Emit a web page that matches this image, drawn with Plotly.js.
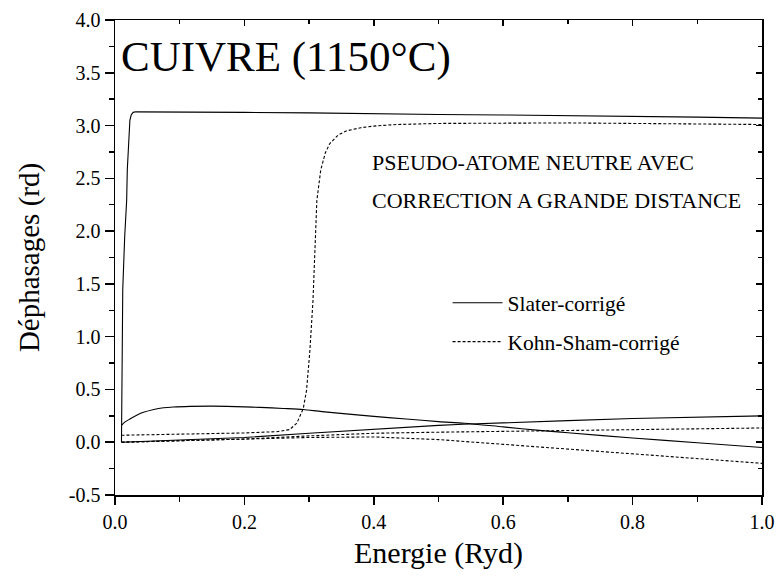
<!DOCTYPE html>
<html>
<head>
<meta charset="utf-8">
<script src="https://cdn.plot.ly/plotly-3.0.1.min.js"></script>
<style>html,body{margin:0;padding:0;background:#fff;}#chart{width:778px;height:581px;}</style>
</head>
<body>
<div id="chart"></div>
<script>
// Slater-corrigé (solid) curves
const slaterStepX = [0.0100, 0.0103, 0.0106, 0.0120, 0.0150, 0.0180, 0.0190, 0.0210, 0.0230, 0.0250, 0.0280, 0.0320, 0.05, 0.1, 0.2, 0.3, 0.4, 0.5, 0.6, 0.7, 0.8, 0.9, 1.0];
const slaterStepY = [0.00, 0.45, 0.87, 1.45, 1.95, 2.29, 2.58, 2.90, 3.05, 3.10, 3.125, 3.13, 3.13, 3.13, 3.125, 3.12, 3.11, 3.105, 3.10, 3.095, 3.085, 3.08, 3.07];

const slaterHumpX = [0.01, 0.015, 0.023, 0.035, 0.044, 0.06, 0.075, 0.09, 0.116, 0.15, 0.173, 0.2, 0.224, 0.26, 0.291, 0.32, 0.4, 0.45, 0.5, 0.54, 0.6, 0.66, 0.7, 0.8, 0.9, 1.0];
const slaterHumpY = [0.16, 0.19, 0.22, 0.26, 0.283, 0.31, 0.326, 0.334, 0.34, 0.342, 0.34, 0.335, 0.33, 0.32, 0.31, 0.29, 0.245, 0.22, 0.195, 0.18, 0.145, 0.11, 0.09, 0.04, -0.005, -0.05];

const slaterLowX = [0.01, 0.1, 0.2, 0.3, 0.4, 0.5, 0.538, 0.6, 0.7, 0.8, 0.9, 1.0];
const slaterLowY = [0.00, 0.02, 0.045, 0.085, 0.125, 0.16, 0.17, 0.185, 0.205, 0.225, 0.24, 0.25];

// Kohn-Sham-corrigé (dashed) curves
const ksStepX = [0.01, 0.05, 0.1, 0.15, 0.2, 0.25, 0.27, 0.281, 0.291, 0.296, 0.301, 0.306, 0.309, 0.312, 0.318, 0.325, 0.332, 0.345, 0.358, 0.38, 0.4, 0.435, 0.5, 0.6, 0.7, 0.8, 0.9, 1.0];
const ksStepY = [0.066, 0.07, 0.075, 0.08, 0.088, 0.10, 0.12, 0.18, 0.32, 0.49, 0.85, 1.34, 1.8, 2.29, 2.58, 2.74, 2.83, 2.91, 2.95, 2.98, 2.995, 3.01, 3.02, 3.025, 3.025, 3.02, 3.015, 3.01];

const ksUpX = [0.01, 0.1, 0.2, 0.3, 0.4, 0.5, 0.657, 0.8, 0.9, 1.0];
const ksUpY = [0.00, 0.012, 0.03, 0.06, 0.085, 0.095, 0.107, 0.12, 0.128, 0.135];

const ksLowX = [0.01, 0.1, 0.2, 0.3, 0.4, 0.5, 0.6, 0.7, 0.8, 0.9, 1.0];
const ksLowY = [0.00, 0.012, 0.028, 0.045, 0.05, 0.025, -0.02, -0.065, -0.11, -0.155, -0.20];

const xTicks = [0.0, 0.2, 0.4, 0.6, 0.8, 1.0];
const xTickText = ['0.0', '0.2', '0.4', '0.6', '0.8', '1.0'];
const yTicks = [-0.5, 0.0, 0.5, 1.0, 1.5, 2.0, 2.5, 3.0, 3.5, 4.0];
const yTickText = ['-0.5', '0.0', '0.5', '1.0', '1.5', '2.0', '2.5', '3.0', '3.5', '4.0'];

const seriesNames = ['Slater-corrigé', 'Kohn-Sham-corrigé'];

const FONT = '"Liberation Serif", "Times New Roman", Times, serif';
const solid = {color: '#000', width: 1.1, dash: 'solid'};
const solidSmooth = {color: '#000', width: 1.1, dash: 'solid', shape: 'spline', smoothing: 0.8};
const dashed = {color: '#000', width: 1.1, dash: '3px,2px'};

const traces = [
  {x: slaterStepX, y: slaterStepY, mode: 'lines', line: solid, name: seriesNames[0], legendgroup: 'a', showlegend: true},
  {x: slaterHumpX, y: slaterHumpY, mode: 'lines', line: solidSmooth, name: seriesNames[0], legendgroup: 'a', showlegend: false},
  {x: slaterLowX, y: slaterLowY, mode: 'lines', line: solid, name: seriesNames[0], legendgroup: 'a', showlegend: false},
  {x: ksStepX, y: ksStepY, mode: 'lines', line: dashed, name: seriesNames[1], legendgroup: 'b', showlegend: true},
  {x: ksUpX, y: ksUpY, mode: 'lines', line: dashed, name: seriesNames[1], legendgroup: 'b', showlegend: false},
  {x: ksLowX, y: ksLowY, mode: 'lines', line: dashed, name: seriesNames[1], legendgroup: 'b', showlegend: false},
  {x: [2], y: [5], mode: 'markers', xaxis: 'x2', yaxis: 'y2', showlegend: false, hoverinfo: 'skip', marker: {opacity: 0}}
];

const axCommon = {
  showgrid: false, zeroline: false, showline: true, linecolor: '#000', linewidth: 1.5,
  tickcolor: '#000', tickwidth: 1.5, tickfont: {family: FONT, size: 20, color: '#000'}
};

const layout = {
  width: 778, height: 581,
  margin: {l: 115, r: 16, t: 20, b: 86},
  paper_bgcolor: '#fff', plot_bgcolor: '#fff',
  font: {family: FONT, color: '#000'},
  showlegend: true,
  legend: {
    x: 0.514, y: 0.448, xanchor: 'left', yanchor: 'top',
    font: {family: FONT, size: 21.5, color: '#000'},
    bgcolor: 'rgba(0,0,0,0)', borderwidth: 0,
    traceorder: 'grouped', tracegroupgap: 8, itemwidth: 50
  },
  xaxis: Object.assign({}, axCommon, {
    range: [0, 1], tickmode: 'array', tickvals: xTicks, ticktext: xTickText,
    ticks: 'outside', ticklen: 8,
    minor: {dtick: 0.1, ticks: 'outside', ticklen: 5, tickcolor: '#000', tickwidth: 1.5, showgrid: false},
    title: {text: 'Energie (Ryd)', font: {family: FONT, size: 30, color: '#000'}, standoff: 10}
  }),
  yaxis: Object.assign({}, axCommon, {
    range: [-0.5, 4.0], tickmode: 'array', tickvals: yTicks, ticktext: yTickText,
    ticks: 'outside', ticklen: 9,
    minor: {dtick: 0.25, ticks: 'outside', ticklen: 5, tickcolor: '#000', tickwidth: 1.5, showgrid: false},
    title: {text: 'Déphasages (rd)', font: {family: FONT, size: 29, color: '#000'}, standoff: 20}
  }),
  xaxis2: Object.assign({}, axCommon, {
    overlaying: 'x', side: 'top', anchor: 'y2', range: [0, 1],
    tickmode: 'array', tickvals: xTicks, showticklabels: false,
    ticks: 'inside', ticklen: 6,
    minor: {dtick: 0.1, ticks: 'inside', ticklen: 4, tickcolor: '#000', tickwidth: 1.5, showgrid: false}
  }),
  yaxis2: Object.assign({}, axCommon, {
    overlaying: 'y', side: 'right', anchor: 'x2', range: [-0.5, 4.0],
    tickmode: 'array', tickvals: yTicks, showticklabels: false,
    ticks: 'inside', ticklen: 6,
    minor: {dtick: 0.25, ticks: 'inside', ticklen: 4, tickcolor: '#000', tickwidth: 1.5, showgrid: false}
  }),
  annotations: [
    {text: 'CUIVRE (1150°C)', xref: 'paper', yref: 'paper', x: 0.006, y: 0.922, xanchor: 'left', yanchor: 'middle',
     showarrow: false, font: {family: FONT, size: 43, color: '#000'}},
    {text: 'PSEUDO-ATOME NEUTRE AVEC', xref: 'paper', yref: 'paper', x: 0.394, y: 0.699, xanchor: 'left', yanchor: 'middle',
     showarrow: false, font: {family: FONT, size: 22, color: '#000'}},
    {text: 'CORRECTION A GRANDE DISTANCE', xref: 'paper', yref: 'paper', x: 0.394, y: 0.619, xanchor: 'left', yanchor: 'middle',
     showarrow: false, font: {family: FONT, size: 22, color: '#000'}}
  ]
};

Plotly.newPlot('chart', traces, layout, {displayModeBar: false, staticPlot: true});
</script>
</body>
</html>
